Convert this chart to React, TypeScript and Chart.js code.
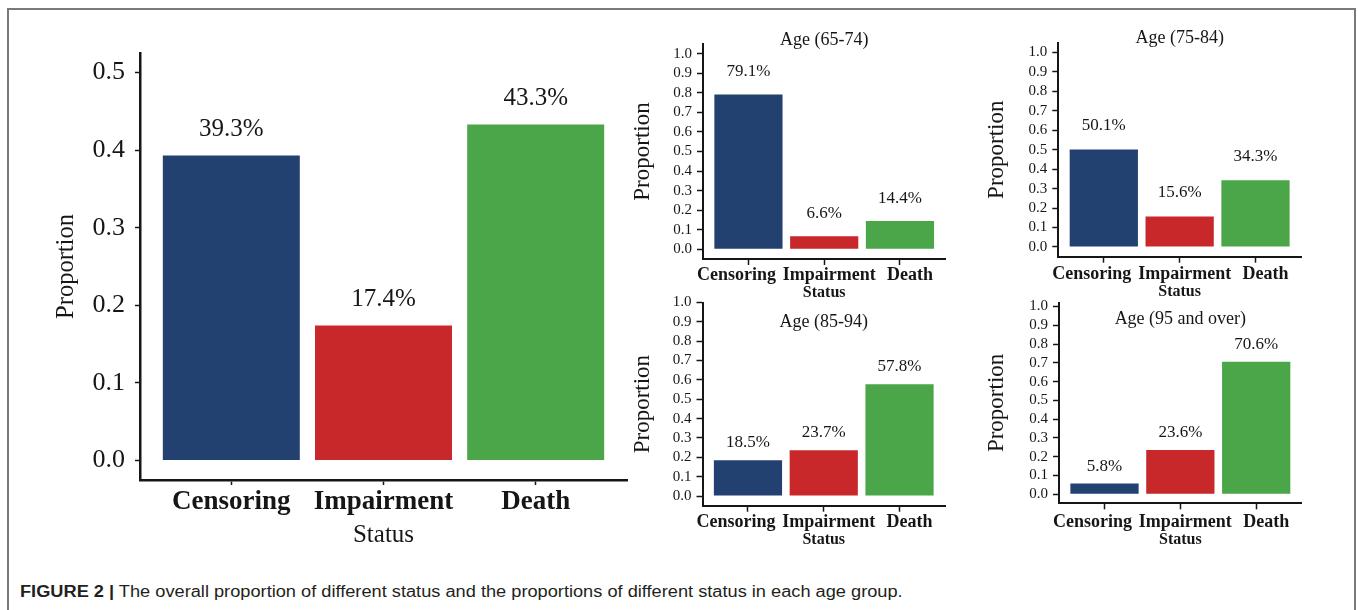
import React, { useEffect, useRef } from 'react';
import { Chart, registerables } from 'chart.js';

Chart.register(...registerables);

// ---------- data ----------
const CATEGORIES = ['Censoring', 'Impairment', 'Death'];
const BAR_COLORS = ['#234170', '#C8282A', '#4AA648'];
const OVERALL = [0.393, 0.174, 0.433];
const AGE_65_74 = [0.791, 0.066, 0.144];
const AGE_75_84 = [0.501, 0.156, 0.343];
const AGE_85_94 = [0.185, 0.237, 0.578];
const AGE_95_PLUS = [0.058, 0.236, 0.706];
const PANEL_TITLES = ['Age (65-74)', 'Age (75-84)', 'Age (85-94)', 'Age (95 and over)'];
const MAIN_TICKS = [0, 0.1, 0.2, 0.3, 0.4, 0.5];
const PANEL_TICKS = [0, 0.1, 0.2, 0.3, 0.4, 0.5, 0.6, 0.7, 0.8, 0.9, 1.0];
const Y_TITLE = 'Proportion';
const X_TITLE = 'Status';
const CAPTION_LEAD = 'FIGURE 2 |';
const CAPTION_TEXT = 'The overall proportion of different status and the proportions of different status in each age group.';

// ---------- styles ----------
const SERIF = "'Liberation Serif', 'Times New Roman', Times, serif";
const INK = '#161616';

const decorPlugin = {
  id: 'decor',
  afterDatasetsDraw(chart: any, _args: any, opts: any) {
    const { ctx } = chart;
    const meta = chart.getDatasetMeta(0);
    const values = chart.data.datasets[0].data;
    ctx.save();
    ctx.font = opts.labelFont;
    ctx.fillStyle = INK;
    ctx.textAlign = 'center';
    ctx.textBaseline = 'middle';
    meta.data.forEach((bar: any, i: number) => {
      const v = values[i].y;
      ctx.fillText(`${(v * 100).toFixed(1)}%`, bar.x, bar.y - opts.labelOffset);
    });
    ctx.restore();
  },
  afterDraw(chart: any, _args: any, opts: any) {
    const { ctx, chartArea, scales } = chart;
    ctx.save();
    ctx.fillStyle = INK;
    ctx.textAlign = 'center';
    ctx.textBaseline = 'middle';
    if (opts.title) {
      ctx.font = opts.titleFont;
      ctx.fillText(opts.title, (chartArea.left + chartArea.right) / 2 + (opts.titleDx || 0), chartArea.top + opts.titleDy);
    }
    if (opts.customX) {
      ctx.font = opts.xLabelFont;
      CATEGORIES.forEach((c, i) => {
        ctx.fillText(c, scales.x.getPixelForValue(i + 1) + opts.xShifts[i], chartArea.bottom + opts.xLabelDy);
      });
    }
    ctx.restore();
  },
};

type Spec = {
  values: number[];
  box: { x: number; y: number; w: number; h: number };
  area: { l: number; t: number; r: number; b: number };
  yMin: number;
  yMax: number;
  yTicks: number[];
  tickFont: number;
  tickLen: number;
  tickPad: number;
  axisWidth: number;
  yTitleSize: number;
  yTitlePad: number;
  xTitleSize: number;
  xTitleBold: boolean;
  xTitlePad: number;
  xTickSize: number;
  xTickPad: number;
  customX: boolean;
  xShifts: number[];
  xLabelDy: number;
  title?: string;
  titleSize: number;
  titleDy: number;
  labelSize: number;
  labelOffset: number;
};

function buildConfig(s: Spec): any {
  const padTop = s.area.t - s.box.y;
  const padRight = s.box.x + s.box.w - s.area.r;
  const yWidth = s.area.l - s.box.x;
  const xHeight = s.box.y + s.box.h - s.area.b;
  return {
    type: 'bar',
    data: {
      datasets: [
        {
          data: s.values.map((v, i) => ({ x: i + 1, y: v })),
          backgroundColor: BAR_COLORS,
          borderWidth: 0,
          barPercentage: 0.9,
          categoryPercentage: 1,
        },
      ],
    },
    options: {
      animation: false,
      responsive: false,
      maintainAspectRatio: false,
      devicePixelRatio: 1,
      layout: { padding: { left: 0, top: padTop, right: padRight, bottom: 0 } },
      plugins: {
        legend: { display: false },
        tooltip: { enabled: false },
        title: { display: false },
        decor: {
          labelFont: `${s.labelSize}px ${SERIF}`,
          labelOffset: s.labelOffset,
          title: s.title,
          titleFont: `${s.titleSize}px ${SERIF}`,
          titleDy: s.titleDy,
          customX: s.customX,
          xLabelFont: `bold ${s.xTickSize}px ${SERIF}`,
          xShifts: s.xShifts,
          xLabelDy: s.xLabelDy,
        },
      },
      scales: {
        x: {
          type: 'linear',
          min: 0.4,
          max: CATEGORIES.length + 0.6,
          offset: false,
          afterBuildTicks: (sc: any) => {
            sc.ticks = CATEGORIES.map((_, i) => ({ value: i + 1 }));
          },
          afterFit: (sc: any) => {
            sc.height = xHeight;
          },
          grid: {
            display: true,
            drawOnChartArea: false,
            drawTicks: true,
            tickLength: s.tickLen,
            tickWidth: 1.5,
            tickColor: INK,
            offset: false,
          },
          border: { display: true, color: INK, width: s.axisWidth },
          ticks: {
            display: !s.customX,
            autoSkip: false,
            maxRotation: 0,
            minRotation: 0,
            padding: s.xTickPad,
            color: INK,
            font: { family: SERIF, size: s.xTickSize, weight: 'bold', lineHeight: 1 },
            callback: (v: any) => CATEGORIES[Math.round(v) - 1] ?? '',
          },
          title: {
            display: true,
            text: X_TITLE,
            color: INK,
            font: { family: SERIF, size: s.xTitleSize, weight: s.xTitleBold ? 'bold' : 'normal', lineHeight: 1 },
            padding: { top: 0, bottom: s.xTitlePad },
          },
        },
        y: {
          type: 'linear',
          min: s.yMin,
          max: s.yMax,
          afterBuildTicks: (sc: any) => {
            sc.ticks = s.yTicks.map((v) => ({ value: v }));
          },
          afterFit: (sc: any) => {
            sc.width = yWidth;
          },
          grid: {
            display: true,
            drawOnChartArea: false,
            drawTicks: true,
            tickLength: s.tickLen,
            tickWidth: 1.5,
            tickColor: INK,
          },
          border: { display: true, color: INK, width: s.axisWidth },
          ticks: {
            autoSkip: false,
            padding: s.tickPad,
            color: INK,
            font: { family: SERIF, size: s.tickFont, lineHeight: 1 },
            callback: (v: any) => Number(v).toFixed(1),
          },
          title: {
            display: true,
            text: Y_TITLE,
            color: INK,
            font: { family: SERIF, size: s.yTitleSize, lineHeight: 1 },
            padding: { top: s.yTitlePad, bottom: 0 },
          },
        },
      },
    },
    plugins: [decorPlugin],
  };
}

const SMALL_COMMON = {
  yTicks: PANEL_TICKS,
  tickFont: 15,
  tickLen: 6,
  tickPad: 5,
  axisWidth: 2,
  yTitleSize: 23,
  xTitleSize: 16,
  xTitleBold: true,
  xTickSize: 18,
  xTickPad: 2,
  customX: true,
  xShifts: [-12, 5, 10],
  titleSize: 18,
  labelSize: 17,
};

const SPECS: Spec[] = [
  {
    values: OVERALL,
    box: { x: 30, y: 30, w: 610, h: 535 },
    area: { l: 140, t: 50.2, r: 627, b: 480 },
    yMin: -0.025,
    yMax: 0.525,
    yTicks: MAIN_TICKS,
    tickFont: 26,
    tickLen: 5,
    tickPad: 10,
    axisWidth: 2.5,
    yTitleSize: 24.5,
    yTitlePad: 24.75,
    xTitleSize: 25,
    xTitleBold: false,
    xTitlePad: 16.8,
    xTickSize: 27,
    xTickPad: 4,
    customX: false,
    xShifts: [0, 0, 0],
    xLabelDy: 0,
    titleSize: 18,
    titleDy: 0,
    labelSize: 25,
    labelOffset: 26,
  },
  {
    ...SMALL_COMMON,
    values: AGE_65_74,
    box: { x: 620, y: 22, w: 340, h: 280 },
    area: { l: 703, t: 44, r: 945.4, b: 259 },
    yMin: -0.05,
    yMax: 1.05,
    yTitlePad: 11.2,
    xTitlePad: 1.3,
    xLabelDy: 16,
    title: PANEL_TITLES[0],
    titleDy: -4,
    labelOffset: 23,
  },
  {
    ...SMALL_COMMON,
    values: AGE_75_84,
    box: { x: 975, y: 20, w: 340, h: 282 },
    area: { l: 1058.3, t: 42.7, r: 1301, b: 256.7 },
    yMin: -0.05,
    yMax: 1.05,
    yTitlePad: 10.2,
    xTitlePad: 2.3,
    xLabelDy: 18,
    title: PANEL_TITLES[1],
    titleDy: -4.4,
    labelOffset: 24,
  },
  {
    ...SMALL_COMMON,
    values: AGE_85_94,
    box: { x: 620, y: 290, w: 340, h: 265 },
    area: { l: 702.5, t: 300, r: 945, b: 505.7 },
    yMin: -0.05,
    yMax: 1.0,
    yTitlePad: 11.2,
    xTitlePad: 7,
    xLabelDy: 16.6,
    title: PANEL_TITLES[2],
    titleDy: 20,
    labelOffset: 18,
  },
  {
    ...SMALL_COMMON,
    values: AGE_95_PLUS,
    box: { x: 975, y: 290, w: 340, h: 265 },
    area: { l: 1059, t: 301.7, r: 1301.7, b: 503.3 },
    yMin: -0.048,
    yMax: 1.021,
    yTitlePad: 10.2,
    xTitlePad: 7,
    xLabelDy: 19,
    title: PANEL_TITLES[3],
    titleDy: 16.6,
    labelOffset: 17,
  },
];

function ChartCanvas({ spec }: { spec: Spec }) {
  const ref = useRef<HTMLCanvasElement | null>(null);
  useEffect(() => {
    if (!ref.current) return;
    const chart = new Chart(ref.current, buildConfig(spec));
    return () => chart.destroy();
  }, [spec]);
  return (
    <canvas
      ref={ref}
      width={spec.box.w}
      height={spec.box.h}
      style={{
        position: 'absolute',
        left: spec.box.x,
        top: spec.box.y,
        width: spec.box.w,
        height: spec.box.h,
      }}
    />
  );
}

export default function App() {
  return (
    <div
      style={{
        position: 'absolute',
        left: 0,
        top: 0,
        width: 1358,
        height: 610,
        overflow: 'hidden',
        background: '#ffffff',
      }}
    >
      <div
        style={{
          position: 'absolute',
          left: 7,
          top: 8,
          width: 1349,
          height: 700,
          boxSizing: 'border-box',
          border: '2px solid #7a7a7a',
        }}
      />
      {SPECS.map((s, i) => (
        <ChartCanvas key={i} spec={s} />
      ))}
      <div
        style={{
          position: 'absolute',
          left: 20,
          top: 583,
          fontFamily: "'Liberation Sans', Arial, Helvetica, sans-serif",
          fontSize: 16,
          color: '#231f20',
          whiteSpace: 'nowrap',
          transform: 'scaleX(1.138)',
          transformOrigin: 'left center',
        }}
      >
        <b>{CAPTION_LEAD}</b> {CAPTION_TEXT}
      </div>
    </div>
  );
}
